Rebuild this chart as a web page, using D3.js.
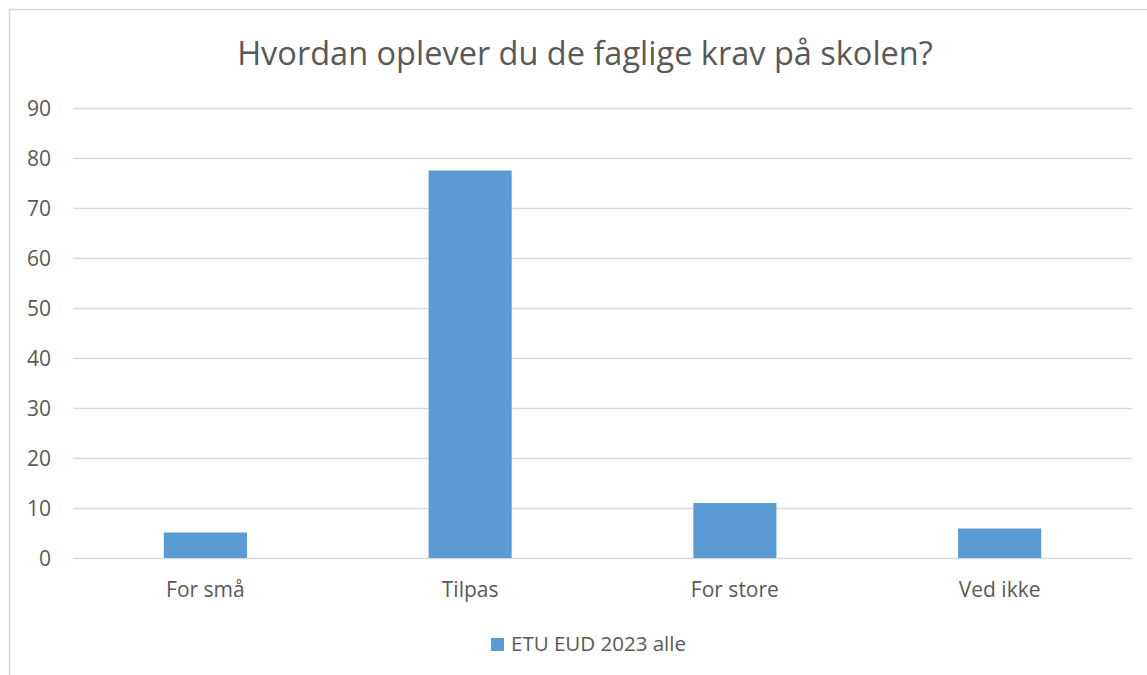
<!DOCTYPE html>
<html lang="da">
<head>
<meta charset="UTF-8">
<title>Hvordan oplever du de faglige krav på skolen?</title>
<script src="https://cdn.jsdelivr.net/npm/d3@7"></script>
<style>
  body { margin: 0; background: #fff; }
  text { font-family: "Open Sans", "Liberation Sans", sans-serif; fill: #595959; }
</style>
</head>
<body>
<svg width="1147" height="675"></svg>
<script>
// data
var categories = ["For små", "Tilpas", "For store", "Ved ikke"];
var values = [5.1, 77.5, 11.0, 5.9];
var yTicks = [0, 10, 20, 30, 40, 50, 60, 70, 80, 90];
var seriesName = "ETU EUD 2023 alle";
var title = "Hvordan oplever du de faglige krav på skolen?";

var svg = d3.select("svg");
var margin = { left: 73, right: 1132, top: 108, bottom: 558 };

// chart frame
svg.append("path")
    .attr("d", "M9.5,675 V9.5 H1147")
    .attr("fill", "none")
    .attr("stroke", "#d9d9d9")
    .attr("stroke-width", 1.5);

var x = d3.scaleBand()
    .domain(categories)
    .range([margin.left, margin.right]);

var y = d3.scaleLinear()
    .domain([0, 90])
    .range([margin.bottom, margin.top]);

// gridlines
svg.append("g")
    .selectAll("line")
    .data(yTicks)
    .enter().append("line")
    .attr("x1", margin.left)
    .attr("x2", margin.right)
    .attr("y1", function(d) { return y(d) + 0.5; })
    .attr("y2", function(d) { return y(d) + 0.5; })
    .attr("stroke", "#d9d9d9")
    .attr("stroke-width", 1.3);

// y tick labels
svg.append("g")
    .selectAll("text")
    .data(yTicks)
    .enter().append("text")
    .attr("x", 51)
    .attr("y", function(d) { return y(d) + 8; })
    .attr("text-anchor", "end")
    .style("font-size", "21px")
    .text(function(d) { return d; });

// bars
var barW = x.bandwidth() * 0.314;
svg.append("g")
    .selectAll("rect")
    .data(values)
    .enter().append("rect")
    .attr("x", function(d, i) { return x(categories[i]) + (x.bandwidth() - barW) / 2; })
    .attr("y", function(d) { return y(d); })
    .attr("width", barW)
    .attr("height", function(d) { return y(0) - y(d); })
    .attr("fill", "#5b9bd5");

// category labels
svg.append("g")
    .selectAll("text")
    .data(categories)
    .enter().append("text")
    .attr("x", function(d) { return x(d) + x.bandwidth() / 2; })
    .attr("y", 597)
    .attr("text-anchor", "middle")
    .style("font-size", "21px")
    .text(function(d) { return d; });

// title
svg.append("text")
    .attr("x", 585)
    .attr("y", 65)
    .attr("text-anchor", "middle")
    .style("font-size", "32.5px")
    .text(title);

// legend
svg.append("rect")
    .attr("x", 491)
    .attr("y", 638)
    .attr("width", 13)
    .attr("height", 13)
    .attr("fill", "#5b9bd5");
svg.append("text")
    .attr("x", 511)
    .attr("y", 651)
    .style("font-size", "20.5px")
    .text(seriesName);
</script>
</body>
</html>
